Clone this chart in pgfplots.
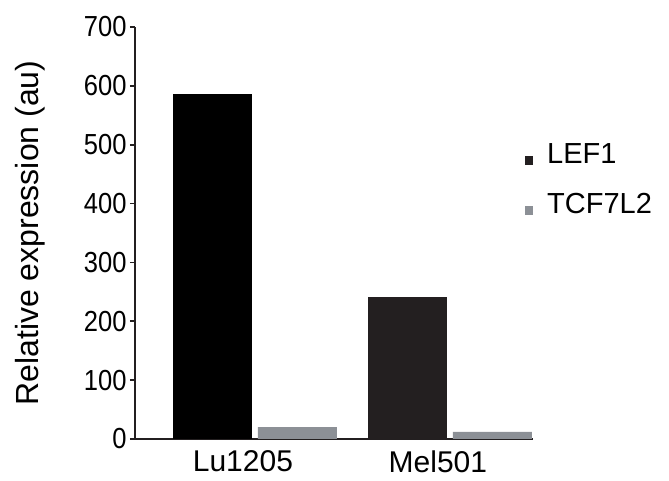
\documentclass[border=0pt]{standalone}
\usepackage{fontspec}
\setmainfont{Liberation Sans}
\newfontfamily\tickfont{Liberation Sans}[FakeStretch=0.88]
\usepackage{pgfplots}
\pgfplotsset{compat=1.18}
\definecolor{lefc}{RGB}{0,0,0}
\definecolor{lefb}{RGB}{35,31,32}
\definecolor{tcfc}{RGB}{140,144,150}
\definecolor{axc}{RGB}{35,31,32}
\begin{document}
\begin{tikzpicture}
\path[use as bounding box] (0pt,0pt) rectangle (669pt,481pt);
\begin{axis}[
  at={(135pt,42pt)}, anchor=south west,
  scale only axis, width=398pt, height=412pt,
  xmin=-0.615, xmax=1.426, ymin=0, ymax=700,
  axis x line*=bottom, axis y line*=left,
  axis line style={line width=1.6pt, color=axc},
  ytick={0,100,...,700},
  xtick={0,1}, xticklabels={Lu1205,Mel501},
  tick align=outside, major tick length=5pt,
  ytick style={line width=1.6pt, color=axc},
  xtick style={draw=none},
  /pgf/number format/assume math mode=true,
  yticklabel style={font=\tickfont\fontsize{29}{29}\selectfont},
  xticklabel style={font=\fontsize{30}{30}\selectfont, xshift=-12pt, yshift=-3pt},
  ylabel={Relative expression (au)},
  ylabel style={font=\fontsize{32}{32}\selectfont, at={(axis description cs:-0.2437,0.5)}, anchor=base},
  ybar, bar width=0.405,
  legend style={draw=none, fill=none, at={(axis description cs:0.98,0.723)}, anchor=north west,
    font=\fontsize{29}{29}\selectfont, row sep=24pt, column sep=12pt, inner sep=0pt},
  legend cell align=left,
  legend image code/.code={\fill[#1] (0pt,-11pt) rectangle (8pt,-2pt);},
]
\addplot[fill=lefb, draw=none, bar shift=-0.218] coordinates {(1,241)};
\addlegendentry{LEF1}
\addplot[fill=tcfc, draw=none, bar shift=0.218] coordinates {(0,20) (1,12)};
\addlegendentry{TCF7L2}
\addplot[fill=lefc, draw=none, bar shift=-0.218, forget plot] coordinates {(0,586)};
\end{axis}
\end{tikzpicture}
\end{document}
